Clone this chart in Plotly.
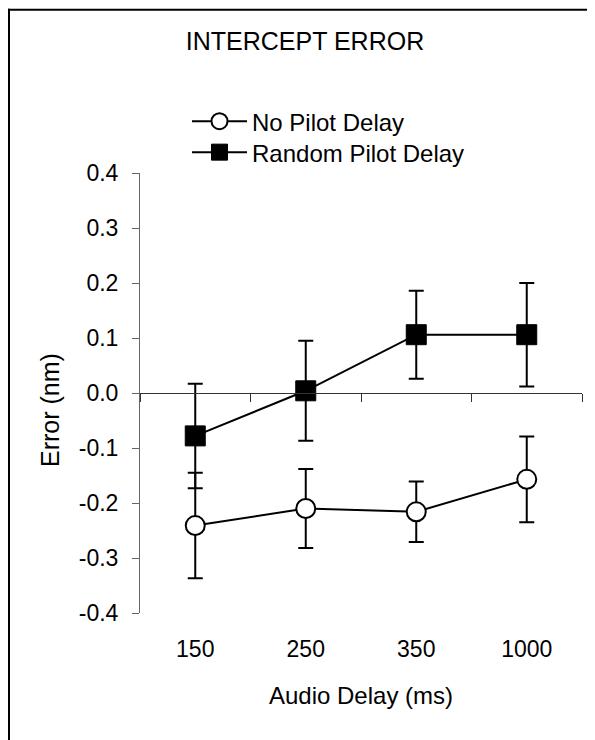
import plotly.graph_objects as go

# ---- data ----
categories = ["150", "250", "350", "1000"]
no_delay = [-0.241, -0.210, -0.216, -0.157]
no_delay_err = [0.096, 0.072, 0.055, 0.078]
random_delay = [-0.078, 0.004, 0.106, 0.106]
random_delay_err = [0.095, 0.091, 0.080, 0.094]
y_tickvals = [0.4, 0.3, 0.2, 0.1, 0.0, -0.1, -0.2, -0.3, -0.4]
y_ticktext = ["0.4", "0.3", "0.2", "0.1", "0.0", "-0.1", "-0.2", "-0.3", "-0.4"]
y_range = [-0.4, 0.4]

# ---- layout geometry (page pixels; page body has an 8px margin) ----
PAGE_W, PAGE_H = 595, 740
OFF = 8
W, H = PAGE_W - OFF, PAGE_H - OFF
# plot area in page pixels
PL, PR, PT, PB = 140, 582, 172.5, 613.5
ML, MR, MT, MB = PL - OFF, PAGE_W - PR, PT - OFF, (OFF + H) - PB
PW, PH = PR - PL, PB - PT


def px_x(px):
    return (px - PL) / PW


def px_y(py):
    return (PB - py) / PH


FONT = "Liberation Sans, Arial, Helvetica, sans-serif"

fig = go.Figure()
fig.add_trace(go.Scatter(
    x=categories, y=no_delay, name="No Pilot Delay", mode="lines+markers",
    line=dict(color="black", width=2),
    marker=dict(symbol="circle", size=19, color="white", line=dict(color="black", width=2)),
    error_y=dict(type="data", array=no_delay_err, color="black", thickness=2, width=7.5),
    legend="legend",
))
fig.add_trace(go.Scatter(
    x=categories, y=random_delay, name="Random Pilot Delay", mode="lines+markers",
    line=dict(color="black", width=2),
    marker=dict(symbol="square", size=20, color="black", line=dict(color="black", width=1)),
    error_y=dict(type="data", array=random_delay_err, color="black", thickness=2, width=7.5),
    legend="legend2",
))

zero_pos = (0 - y_range[0]) / (y_range[1] - y_range[0])

legend_common = dict(xanchor="left", yanchor="middle", xref="paper", yref="paper",
                     itemwidth=55, bgcolor="rgba(0,0,0,0)", borderwidth=0,
                     font=dict(family=FONT, size=24, color="black"))

fig.update_layout(
    width=W, height=H,
    margin=dict(l=ML, r=MR, t=MT, b=MB, autoexpand=False),
    paper_bgcolor="white", plot_bgcolor="white",
    font=dict(family=FONT, color="black", size=22),
    title=dict(text="INTERCEPT ERROR", x=(305 - OFF) / W, xref="container", xanchor="center",
               y=1 - (41 - OFF) / H, yref="container", yanchor="middle",
               font=dict(family=FONT, size=25, color="black")),
    showlegend=True,
    legend=dict(x=px_x(187), y=px_y(121), **legend_common),
    legend2=dict(x=px_x(187), y=px_y(152), **legend_common),
    xaxis=dict(
        type="category", categoryorder="array", categoryarray=categories,
        range=[-0.5, len(categories) - 0.5],
        anchor="free", position=zero_pos,
        showline=True, linecolor="#333333", linewidth=1,
        ticks="outside", tickson="boundaries", ticklen=8, tickcolor="#333333", tickwidth=1,
        ticklabelstandoff=235,
        showgrid=False, zeroline=False, automargin=False,
        tickfont=dict(family=FONT, size=23, color="black"),
        title=dict(text="Audio Delay (ms)", standoff=26,
                   font=dict(family=FONT, size=24, color="black")),
    ),
    yaxis=dict(
        range=y_range, tickmode="array", tickvals=y_tickvals, ticktext=y_ticktext,
        showline=True, linecolor="#666666", linewidth=1,
        ticks="outside", ticklen=7, tickcolor="#666666", tickwidth=1,
        ticklabelstandoff=9,
        showgrid=False, zeroline=False, automargin=False,
        tickfont=dict(family=FONT, size=23, color="black"),
    ),
    annotations=[dict(
        text="Error (nm)", textangle=-90, xref="paper", yref="paper",
        x=px_x(50), y=px_y(410), xanchor="center", yanchor="middle",
        showarrow=False, font=dict(family=FONT, size=25, color="black"),
    )],
    shapes=[
        dict(type="line", xref="paper", yref="paper", x0=px_x(OFF), x1=px_x(PAGE_W + 2),
             y0=px_y(OFF + 1), y1=px_y(OFF + 1), line=dict(color="black", width=2)),
        dict(type="line", xref="paper", yref="paper", x0=px_x(OFF + 1), x1=px_x(OFF + 1),
             y0=px_y(OFF), y1=px_y(PAGE_H + 2), line=dict(color="black", width=2)),
    ],
)

fig.write_html("out.html")
